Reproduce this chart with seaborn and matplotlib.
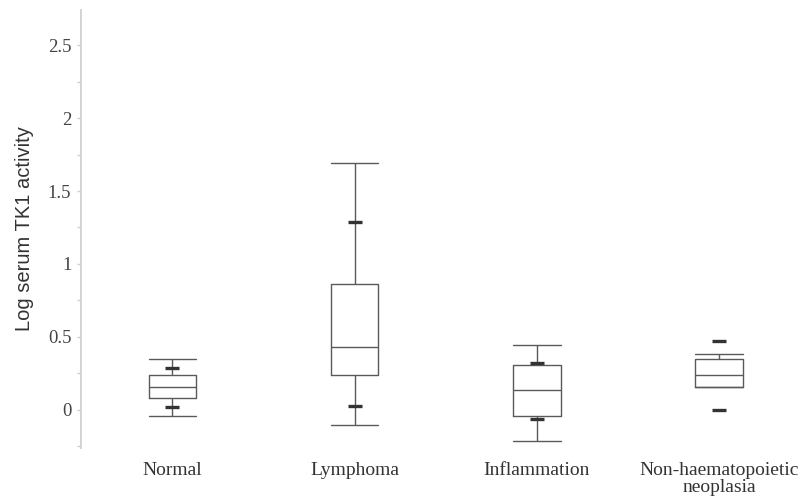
import numpy as np
import pandas as pd
import matplotlib
matplotlib.use("Agg")
import matplotlib.pyplot as plt
import seaborn as sns
from matplotlib.ticker import MultipleLocator

# groups
groups = ["Normal", "Lymphoma", "Inflammation", "Non-haematopoietic\nneoplasia"]

# five-number summaries: min, Q1, median, Q3, max
whisk_lo = [-0.04, -0.10, -0.21, 0.16]
q1 = [0.08, 0.24, -0.04, 0.16]
median = [0.16, 0.43, 0.14, 0.24]
q3 = [0.24, 0.86, 0.31, 0.35]
whisk_hi = [0.35, 1.69, 0.445, 0.38]

# extra percentile marks (short bold dashes)
mark_hi = [0.29, 1.29, 0.32, 0.47]
mark_lo = [0.02, 0.03, -0.06, 0.0]

rows = []
for g, a, b, c, d, e in zip(groups, whisk_lo, q1, median, q3, whisk_hi):
    for v in (a, b, c, d, e):
        rows.append({"group": g, "value": v})
df = pd.DataFrame(rows)

marks = pd.DataFrame({
    "group": groups * 2,
    "value": mark_hi + mark_lo,
})

sns.set_style("white")
plt.rcParams["font.family"] = ["Liberation Serif", "DejaVu Serif"]

fig = plt.figure(figsize=(8.03, 5.01), dpi=100)
ax = fig.add_axes([0.101, 0.106, 0.899, 0.874])

line_col = "#5a5a5a"
sns.boxplot(data=df, x="group", y="value", order=groups, whis=(0, 100),
            width=0.26, fill=False, color=line_col, linewidth=1.0,
            capwidths=0.26, showfliers=False, ax=ax)

sns.scatterplot(data=marks, x="group", y="value", marker="_", s=110,
                linewidth=2.4, color="#333333", ax=ax, zorder=5, legend=False)

ax.set_xlim(-0.5, 3.46)
ax.set_ylim(-0.26, 2.74)
ax.yaxis.set_minor_locator(MultipleLocator(0.25))
ax.set_yticks([0, 0.5, 1, 1.5, 2, 2.5])
ax.set_yticklabels(["0", "0.5", "1", "1.5", "2", "2.5"])

for s in ["top", "right", "bottom"]:
    ax.spines[s].set_visible(False)
ax.spines["left"].set_color("#d0d0d0")
ax.spines["left"].set_linewidth(1.3)

ax.tick_params(axis="y", which="both", left=True, direction="out",
               length=3, width=1, color="#d0d0d0", labelsize=13.5,
               labelcolor="#444444", pad=4)
ax.tick_params(axis="x", bottom=False, labelsize=14, labelcolor="#333333", pad=7)
for lab in ax.get_xticklabels():
    lab.set_linespacing(1.0)

ax.set_xlabel("")
ax.set_ylabel("Log serum TK1 activity", family=["Liberation Sans", "DejaVu Sans"],
              fontsize=14.5, color="#333333", labelpad=10)

fig.savefig("out.png", dpi=100)
